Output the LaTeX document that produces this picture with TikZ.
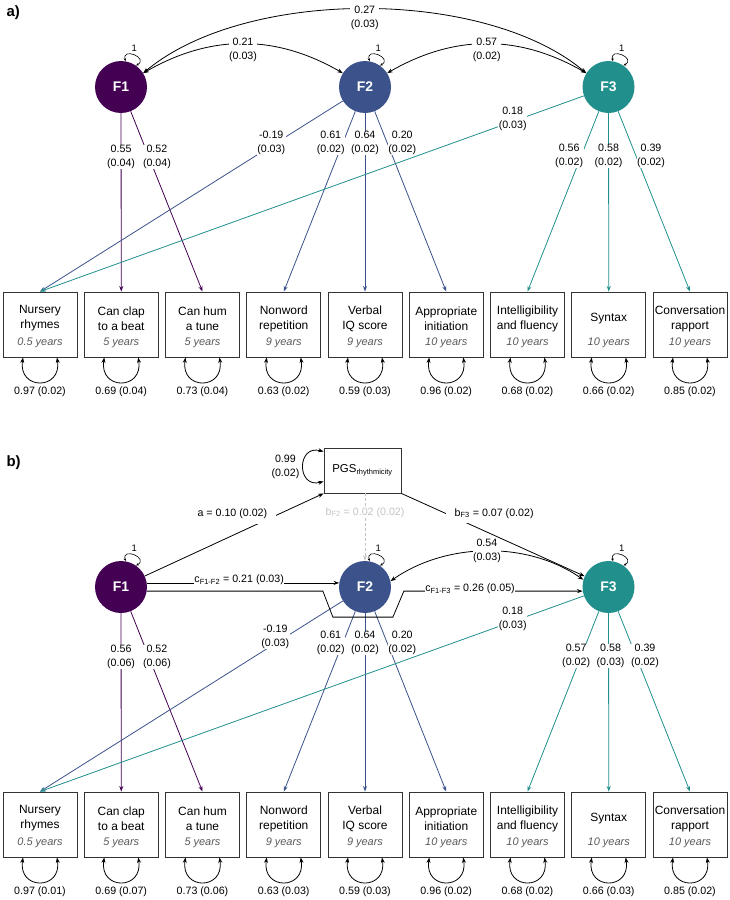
\documentclass[tikz,border=0pt]{standalone}
\usepackage{fontspec}
\setmainfont{Liberation Sans}
\usetikzlibrary{arrows.meta}

\definecolor{fone}{HTML}{440154}
\definecolor{ftwo}{HTML}{3B528B}
\definecolor{fthree}{HTML}{21908C}
\definecolor{yeargray}{HTML}{5A5A5A}
\definecolor{faint}{HTML}{C4C4C4}

\tikzset{
  panel/.style={anchor=west, font=\fontsize{15}{15}\selectfont\bfseries},
  factor/.style={circle, minimum size=52bp, inner sep=0pt, text=white, font=\fontsize{14}{14}\selectfont\bfseries},
  obs/.style={draw=black!80, line width=0.9bp, minimum width=74bp, minimum height=65bp, inner sep=0pt},
  pgsbox/.style={draw=black!80, line width=0.9bp, minimum width=77bp, minimum height=45bp, inner sep=0pt, font=\fontsize{11.5}{13}\selectfont},
  boxtxt/.style={align=center, inner sep=0pt, font=\fontsize{12}{15}\selectfont},
  yeartxt/.style={inner sep=0pt, text=yeargray, font=\fontsize{11}{13}\selectfont\itshape},
  est/.style={fill=white, inner sep=0.5bp, align=center, font=\fontsize{10.7}{14}\selectfont},
  wide/.style={inner xsep=9bp, inner ysep=5bp},
  one/.style={inner sep=0.5bp, font=\fontsize{9.5}{9.5}\selectfont},
  load/.style={-{Stealth[length=5.5bp,width=4bp]}, line width=0.8bp},
  cov/.style={{Stealth[length=5.5bp,width=4bp]}-{Stealth[length=5.5bp,width=4bp]}, line width=0.8bp},
  vloop/.style={{Stealth[length=3bp,width=2.5bp]}-{Stealth[length=3bp,width=2.5bp]}, line width=0.6bp},
}

\newcommand{\sub}[1]{\textsubscript{\fontsize{7.5}{8}\selectfont #1}}

\begin{document}
\begin{tikzpicture}[x=1bp, y=-1bp]
\path[use as bounding box, fill=white] (0,0) rectangle (730,900);

\node[panel] (la) at (3,13) {a)};
\node[panel] (lb) at (3,463) {b)};

% latent factors
\foreach \p/\dy in {a/0, b/500} {
	\node[factor, fill=fone] (\p F1) at (121,87+\dy) {F1};
	\node[factor, fill=ftwo] (\p F2) at (365,87+\dy) {F2};
	\node[factor, fill=fthree] (\p F3) at (608.5,87+\dy) {F3};
	\foreach \f in {F1,F2,F3} {
		\draw[vloop] (\p\f.80) .. controls +(105:15bp) and +(30:15bp) .. (\p\f.55)
			node[one, pos=.5, above=2.5bp] (\p\f v) {1};
	}
}

% observed measures
\foreach \i/\nm/\yr/\ra/\rb in {
	1/{Nursery\\rhymes}/0.5/{0.97 (0.02)}/{0.97 (0.01)},
	2/{Can clap\\to a beat}/5/{0.69 (0.04)}/{0.69 (0.07)},
	3/{Can hum\\a tune}/5/{0.73 (0.04)}/{0.73 (0.06)},
	4/{Nonword\\repetition}/9/{0.63 (0.02)}/{0.63 (0.03)},
	5/{Verbal\\IQ score}/9/{0.59 (0.03)}/{0.59 (0.03)},
	6/{Appropriate\\initiation}/10/{0.96 (0.02)}/{0.96 (0.02)},
	7/{Intelligibility\\and fluency}/10/{0.68 (0.02)}/{0.68 (0.02)},
	8/{Syntax}/10/{0.66 (0.02)}/{0.66 (0.03)},
	9/{Conversation\\rapport}/10/{0.85 (0.02)}/{0.85 (0.02)}} {
	\foreach \p/\dy/\r in {a/0/\ra, b/500/\rb} {
		\node[obs] (\p\i) at ({40+(\i-1)*81.25},324.5+\dy) {};
		\node[boxtxt] (\p\i t) at ([yshift=6bp]\p\i.center) {\nm};
		\node[yeartxt] (\p\i y) at ([yshift=-18.5bp]\p\i.center) {\yr\ years};
		\draw[cov] ([xshift=-17bp]\p\i.south) .. controls +(-5bp,-33bp) and +(5bp,-33bp) .. ([xshift=17bp]\p\i.south)
			node[est, pos=.5, below=4bp] (\p\i r) {\r};
	}
}

% loadings, panel a
\foreach \f/\b/\t/\dx/\col/\txt in {
	F1/2/.246/0/fone/{0.55\\(0.04)},
	F1/3/.254/8/fone/{0.52\\(0.04)},
	F2/1/.22/-5/ftwo/{-0.19\\(0.03)},
	F2/4/.176/-12/ftwo/{0.61\\(0.02)},
	F2/5/.168/0/ftwo/{0.64\\(0.02)},
	F2/6/.176/15/ftwo/{0.20\\(0.02)},
	F3/1/.118/-7/fthree/{0.18\\(0.03)},
	F3/7/.248/-12/fthree/{0.56\\(0.02)},
	F3/8/.24/0/fthree/{0.58\\(0.02)},
	F3/9/.248/15/fthree/{0.39\\(0.02)}} {
	\draw[load, draw=\col] (a\f) -- (a\b.north) node[est, pos=\t, xshift=\dx bp] (al\f\b) {\txt};
}

% loadings, panel b
\foreach \f/\b/\t/\dx/\col/\txt in {
	F1/2/.246/0/fone/{0.56\\(0.06)},
	F1/3/.254/8/fone/{0.52\\(0.06)},
	F2/1/.19/-10/ftwo/{-0.19\\(0.03)},
	F2/4/.176/-12/ftwo/{0.61\\(0.02)},
	F2/5/.168/0/ftwo/{0.64\\(0.02)},
	F2/6/.176/15/ftwo/{0.20\\(0.02)},
	F3/1/.118/-7/fthree/{0.18\\(0.03)},
	F3/7/.248/-5/fthree/{0.57\\(0.02)},
	F3/8/.24/2/fthree/{0.58\\(0.03)},
	F3/9/.248/9/fthree/{0.39\\(0.02)}} {
	\draw[load, draw=\col] (b\f) -- (b\b.north) node[est, pos=\t, xshift=\dx bp] (bl\f\b) {\txt};
}

% factor correlations, panel a
\draw[cov] (aF1.32) to[out=30, in=150] node[est, yshift=-6bp] (c12) {0.21\\(0.03)} (aF2.148);
\draw[cov] (aF2.32) to[out=30, in=150] node[est, yshift=-6bp] (c23) {0.57\\(0.02)} (aF3.148);
\draw[cov] (aF1.32) to[out=40, in=140, looseness=.77] node[est, yshift=-9bp] (c13) {0.27\\(0.03)} (aF3.148);

% polygenic score, panel b
\node[pgsbox] (pgs) at (362.5,470.5) {PGS\sub{rhythmicity}};
\draw[cov] ([yshift=-4bp]pgs.north west) .. controls +(165:28bp) and +(195:28bp) .. ([yshift=12bp]pgs.south west)
	node[est, pos=.5, anchor=east, xshift=-3bp] (pgsv) {0.99\\(0.02)};
\draw[load] (bF1) -- (pgs.south west) node[est, wide, pos=.49, yshift=22bp] (pa) {a = 0.10 (0.02)};
\draw[load] (pgs.south east) -- (bF3) node[est, wide, pos=.506, yshift=22bp] (pb3) {b\sub{F3} = 0.07 (0.02)};
\draw[load, faint, dashed, dash pattern=on 3bp off 2bp] (pgs.south -| bF2) -- (bF2)
	node[est, pos=.28, text=faint] (pb2) {b\sub{F2} = 0.02 (0.02)};

% paths between factors, panel b
\draw[load] (bF1.9) -- node[est, pos=.48, yshift=3bp] (pc12) {c\sub{F1-F2} = 0.21 (0.03)} (bF2.171);
\draw[load] (bF1.-9) -- ++(176,0) -- ++(10,26) -- ++(60,0) -- ++(11,-26)
	-- node[est, pos=.37, yshift=2bp] (pc13) {c\sub{F1-F3} = 0.26 (0.05)} (bF3.189);
\draw[cov] (bF2.13) to[out=35, in=145, looseness=.9] node[est] (c23b) {0.54\\(0.03)} (bF3.164);

\end{tikzpicture}
\end{document}
